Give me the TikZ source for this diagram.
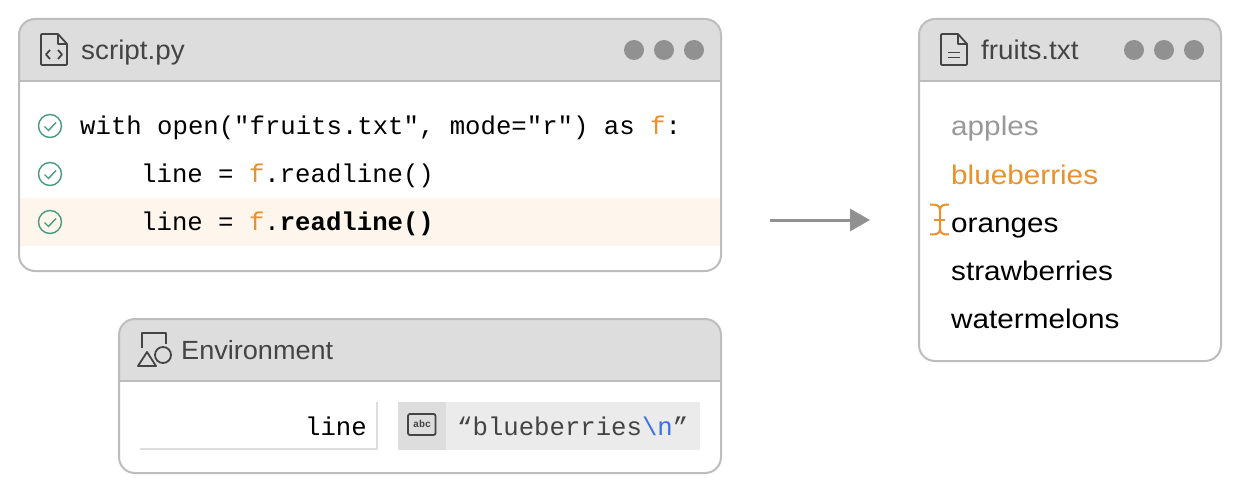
\documentclass[tikz,border=0pt]{standalone}
\usepackage{xcolor}
\usepackage{fontspec}
\setmonofont{Liberation Mono}
\newfontfamily\titlefont[FakeStretch=1.03]{Liberation Sans}
\newfontfamily\fruitfont[FakeStretch=1.1]{Liberation Sans}
\usepackage{tikz}
\usetikzlibrary{arrows.meta}

\definecolor{panelline}{HTML}{BDBDBD}
\definecolor{headfill}{HTML}{DDDDDD}
\definecolor{rowfill}{HTML}{FEF5EC}
\definecolor{dotfill}{HTML}{919191}
\definecolor{iconink}{HTML}{444444}
\definecolor{fruitorange}{HTML}{E8922E}
\definecolor{checkgreen}{HTML}{4A9A80}
\definecolor{valuefill}{HTML}{EBEBEB}
\definecolor{escblue}{HTML}{3A6FE8}

\tikzset{
    panel/.style={draw=panelline, line width=2pt, rounded corners=16pt},
    head/.style={fill=headfill},
    icon/.style={draw=iconink, line width=1.8pt, line join=round},
    check/.style={draw=checkgreen, line width=1.4pt},
    title/.style={anchor=base west, inner sep=0pt, text=iconink, font=\titlefont\fontsize{27}{30}\selectfont},
    code/.style={anchor=base west, inner sep=0pt, font=\ttfamily\fontsize{25.67}{30}\selectfont},
    fruit/.style={anchor=base west, inner sep=0pt, font=\fruitfont\fontsize{27}{30}\selectfont},
}

\begin{document}
\begin{tikzpicture}[x=1pt, y=-1pt]
    \useasboundingbox (0,0) rectangle (1240,492);
    \fill[white] (0,0) rectangle (1240,492);

    % script.py panel
    \fill[head] (19,81) [rounded corners=16pt] -- (19,19) -- (721,19) [sharp corners] -- (721,81) -- cycle;
    \fill[rowfill] (19,198) rectangle (721,246);
    \draw[panelline, line width=2pt] (19,81) -- (721,81);
    \draw[panel] (19,19) rectangle (721,271);

    % file icon with code brackets
    \draw[icon] (58,34) -- (42,34) -- (41,35) -- (41,64) -- (42,65) -- (66,65) -- (67,64) -- (67,44) -- (58,34) -- (58,44) -- (67,44);
    \draw[icon] (50,50) -- (46,54.5) -- (50,59);
    \draw[icon] (58,50) -- (62,54.5) -- (58,59);
    \node[title] (scripttitle) at (81,60) {script.py};

    \fill[dotfill] (634,50) circle (10pt);
    \fill[dotfill] (664,50) circle (10pt);
    \fill[dotfill] (694,50) circle (10pt);

    % Code lines
    \draw[check] (50,126) circle (11.5pt);
    \draw[check] (44.5,126.5) -- (48.5,130.5) -- (56,122.5);
    \draw[check] (50,174) circle (11.5pt);
    \draw[check] (44.5,174.5) -- (48.5,178.5) -- (56,170.5);
    \draw[check] (50,222) circle (11.5pt);
    \draw[check] (44.5,222.5) -- (48.5,226.5) -- (56,218.5);

    \node[code] (codeone) at (80,135) {with open("fruits.txt", mode="r") as \textcolor{fruitorange}{f}:};
    \node[code] (codetwo) at (141,182.5) {line = \textcolor{fruitorange}{f}.readline()};
    \node[code] (codethree) at (141,230.5) {line = \textcolor{fruitorange}{f}.\textbf{readline()}};

    % Environment panel
    \fill[head] (119,381) [rounded corners=16pt] -- (119,319) -- (721,319) [sharp corners] -- (721,381) -- cycle;
    \draw[panelline, line width=2pt] (119,381) -- (721,381);
    \draw[panel] (119,319) rectangle (721,473);

    % shapes icon
    \draw[icon] (142,348) -- (142,333) -- (166,333) -- (166,344);
    \draw[icon] (147,352) -- (156,366) -- (138,366) -- cycle;
    \draw[icon] (163,355) circle (8pt);
    \node[title, font=\titlefont\fontsize{26.3}{30}\selectfont] (envtitle) at (181,359) {Environment};

    % Variable table
    \draw[headfill, line width=2pt] (140,449) -- (377,449) -- (377,402);
    \node[code, anchor=base east] (varname) at (367,435.5) {line};
    \fill[valuefill] (398,402) rectangle (700,450);
    \fill[headfill] (398,402) rectangle (446,450);
    \draw[icon, rounded corners=2pt] (408,414) rectangle (435.5,435);
    \node[anchor=center, inner sep=0pt, text=iconink, font=\ttfamily\bfseries\fontsize{10}{12}\selectfont] (abctag) at (422,424) {abc};
    \node[code, text=iconink] (varvalue) at (457,435.5) {“blueberries\textcolor{escblue}{\textbackslash n}”};

    % fruits.txt panel
    \fill[head] (919,81) [rounded corners=16pt] -- (919,19) -- (1221,19) [sharp corners] -- (1221,81) -- cycle;
    \draw[panelline, line width=2pt] (919,81) -- (1221,81);
    \draw[panel] (919,19) rectangle (1221,361);

    % file icon with text lines
    \draw[icon] (958,34) -- (942,34) -- (941,35) -- (941,64) -- (942,65) -- (966,65) -- (967,64) -- (967,44) -- (958,34) -- (958,44) -- (967,44);
    \draw[icon] (948,52.5) -- (960,52.5);
    \draw[icon] (948,57.5) -- (960,57.5);
    \node[title] (fruitstitle) at (981,60) {fruits.txt};

    \fill[dotfill] (1134,50) circle (10pt);
    \fill[dotfill] (1164,50) circle (10pt);
    \fill[dotfill] (1194,50) circle (10pt);

    % File contents
    \node[fruit, text=black!40] (apples) at (951,136) {apples};
    \node[fruit, text=fruitorange] (blueberries) at (951,184) {blueberries};
    \node[fruit] (oranges) at (951,232) {oranges};
    \node[fruit] (strawberries) at (951,280) {strawberries};
    \node[fruit] (watermelons) at (951,328) {watermelons};

    % Read cursor
    \draw[fruitorange, line width=2pt] (930,204.5) .. controls (936,204.5) and (940,205) .. (940,210) -- (940,229) .. controls (940,234) and (944,234.5) .. (949,234.5);
    \draw[fruitorange, line width=2pt] (949,204.5) .. controls (944,204.5) and (940,205) .. (940,210);
    \draw[fruitorange, line width=2pt] (930,234.5) .. controls (936,234.5) and (940,234) .. (940,229);
    \draw[fruitorange, line width=2pt] (934,219.5) -- (945,219.5);

    % Step arrow
    \coordinate (arrowstart) at (770,220);
    \coordinate (arrowend) at (870,220);
    \draw[dotfill, line width=3pt, -{Triangle[length=20pt, width=22pt]}] (arrowstart) -- (arrowend);
\end{tikzpicture}
\end{document}
